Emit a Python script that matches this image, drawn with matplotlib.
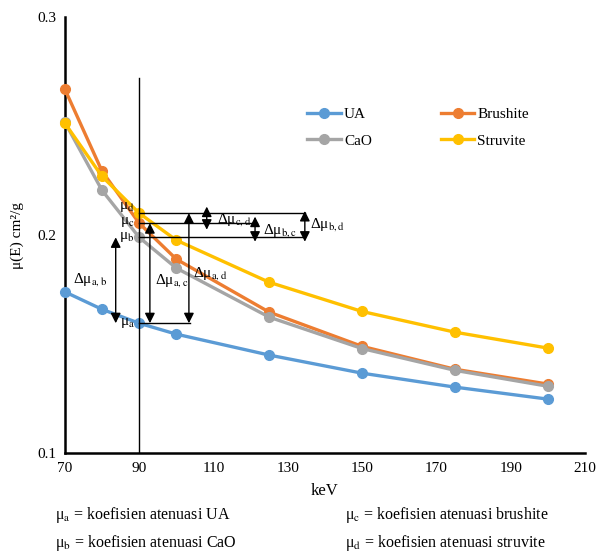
import matplotlib
matplotlib.use("Agg")
import matplotlib.pyplot as plt

plt.rcParams['font.family'] = ['Liberation Serif', 'DejaVu Serif']
plt.rcParams['mathtext.fontset'] = 'stix'

kev = [70, 80, 90, 100, 125, 150, 175, 200]
ua = [0.174, 0.166, 0.1596, 0.1546, 0.145, 0.1367, 0.1303, 0.1248]
brushite = [0.267, 0.2294, 0.2055, 0.189, 0.1647, 0.149, 0.1385, 0.1317]
cao = [0.2518, 0.2206, 0.199, 0.1849, 0.1624, 0.148, 0.138, 0.1307]
struvite = [0.2514, 0.227, 0.2101, 0.1977, 0.1784, 0.165, 0.1555, 0.1482]
names = ["UA", "Brushite", "CaO", "Struvite"]
colors = ["#5B9BD5", "#ED7D31", "#A5A5A5", "#FFC000"]
xticks = [70, 90, 110, 130, 150, 170, 190, 210]
yticks = [0.1, 0.2, 0.3]

fig = plt.figure(figsize=(6, 5.52), dpi=100)
ax = fig.add_axes([0.108, 0.179, 0.867, 0.790])

lines = {}
for name, vals, c in zip(names, [ua, brushite, cao, struvite], colors):
    ln, = ax.plot(kev, vals, color=c, lw=2.4, marker='o', ms=7, label=name,
                  clip_on=False, zorder=3)
    lines[name] = ln

ax.set_xlim(70, 210)
ax.set_ylim(0.1, 0.3)
ax.set_xticks(xticks)
ax.set_yticks(yticks)
ax.set_yticklabels(["0.1", "0.2", "0.3"])
ax.tick_params(length=0, labelsize=11, pad=6)
for s in ['top', 'right']:
    ax.spines[s].set_visible(False)
for s in ['left', 'bottom']:
    ax.spines[s].set_linewidth(1.8)
ax.set_xlabel("keV", fontsize=12, labelpad=6)
ax.set_ylabel("μ(E) cm²/g", fontsize=11, labelpad=10)

leg = ax.legend(handles=[lines["UA"], lines["CaO"], lines["Brushite"], lines["Struvite"]],
                ncol=2, loc='upper left', bbox_to_anchor=(0.44, 0.825), frameon=False,
                fontsize=11, handlelength=2.2, columnspacing=4.5, labelspacing=0.85,
                handletextpad=0.2)

# annotation at 90 keV
x0 = 90
mua, mub, muc, mud = ua[2], cao[2], brushite[2], struvite[2]
ax.plot([x0, x0], [0.1, 0.272], color='black', lw=1, zorder=4)
ax.plot([x0, 134.6], [mud, mud], color='black', lw=1, zorder=4)
ax.plot([x0, 121.7], [muc, muc], color='black', lw=1, zorder=4)
ax.plot([x0, 134.6], [mub, mub], color='black', lw=1, zorder=4)
ax.plot([x0, 103.6], [mua, mua], color='black', lw=1, zorder=4)

def darrow(x, y1, y2):
    ax.annotate('', xy=(x, y1), xytext=(x, y2),
                arrowprops=dict(arrowstyle='<|-|>', color='black', lw=1,
                                mutation_scale=15, shrinkA=0, shrinkB=0), zorder=5)

darrow(83.7, mua, mub)
darrow(92.9, mua, muc)
darrow(103.4, mua, mud)
darrow(108.2, muc - 0.003, mud + 0.003)
darrow(121.2, mub - 0.002, muc + 0.003)
darrow(134.6, mub - 0.002, mud + 0.001)

fs = 11
def mlab(x, y, sub, ha='left'):
    ax.text(x, y, 'Δμ$_{\\mathrm{' + sub + '}}$', fontsize=fs, ha=ha, va='center', zorder=6)

mlab(81.3, 0.1798, 'a,b', ha='right')
mlab(94.2, 0.1794, 'a,c')
mlab(104.6, 0.1826, 'a,d')
mlab(110.9, 0.2073, 'c,d')
mlab(123.3, 0.2023, 'b,c')
mlab(136.0, 0.2050, 'b,d')

for lab, v in [('d', 0.2128), ('c', 0.2060), ('b', 0.1990), ('a', 0.1596)]:
    ax.text(88.8, v, 'μ$_{\\mathrm{' + lab + '}}$', fontsize=fs, ha='right', va='center', zorder=6)

# footnotes
fig.text(0.092, 0.067, 'μ$_{\\mathrm{a}}$ = koefisien atenuasi UA', fontsize=11.5, va='center')
fig.text(0.575, 0.067, 'μ$_{\\mathrm{c}}$ = koefisien atenuasi brushite', fontsize=11.5, va='center')
fig.text(0.092, 0.017, 'μ$_{\\mathrm{b}}$ = koefisien atenuasi CaO', fontsize=11.5, va='center')
fig.text(0.575, 0.017, 'μ$_{\\mathrm{d}}$ = koefisien atenuasi struvite', fontsize=11.5, va='center')

fig.savefig("out.png", dpi=100)
